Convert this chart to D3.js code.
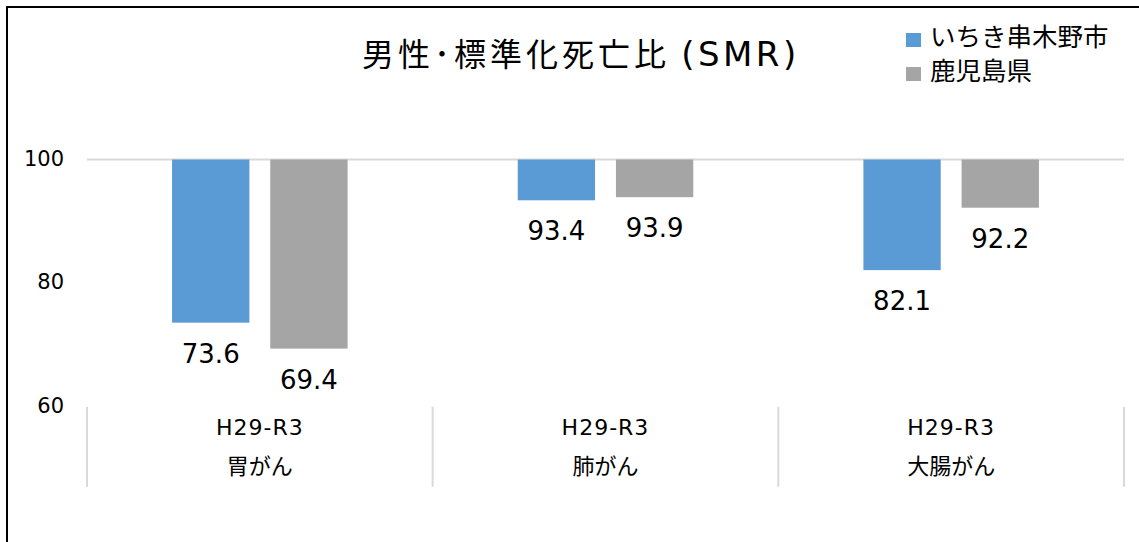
<!DOCTYPE html>
<html>
<head>
<meta charset="utf-8">
<script src="https://cdn.jsdelivr.net/npm/d3@7"></script>
<style>
  body { margin: 0; background: #fff; }
  text { font-family: "DejaVu Sans", "Noto Sans CJK JP", sans-serif; fill: #000; }
  .jp { font-family: "Noto Sans CJK JP", sans-serif; }
</style>
</head>
<body>
<div id="chart"></div>
<script>
// Data
const categories = ["胃がん", "肺がん", "大腸がん"];
const periods = ["H29-R3", "H29-R3", "H29-R3"];
const seriesNames = ["いちき串木野市", "鹿児島県"];
const cityValues = [73.6, 93.4, 82.1];
const prefValues = [69.4, 93.9, 92.2];
const yTicks = [60, 80, 100];
const colors = ["#5b9bd5", "#a5a5a5"];

const width = 1139, height = 542;
const svg = d3.select("#chart").append("svg")
  .attr("width", width)
  .attr("height", height);

// frame (runs off the right and bottom edge)
svg.append("rect")
  .attr("x", 7).attr("y", 7)
  .attr("width", width + 10).attr("height", height + 10)
  .attr("fill", "none")
  .attr("stroke", "#000")
  .attr("stroke-width", 2);

const margin = { left: 87, right: 15, top: 159.5, bottom: 135.3 };
const y = d3.scaleLinear()
  .domain([60, 100])
  .range([height - margin.bottom, margin.top]);
const x = d3.scaleBand()
  .domain(categories)
  .range([margin.left, width - margin.right]);

// excel style: gap width 220%, overlap -27%
const barW = x.bandwidth() / (2 + 0.27 + 2.2);
const gap = barW * 0.27;
const outer = (x.bandwidth() - 2 * barW - gap) / 2;

// gridline at 100
svg.append("line")
  .attr("x1", x.range()[0]).attr("x2", x.range()[1])
  .attr("y1", y(100)).attr("y2", y(100))
  .attr("stroke", "#d9d9d9")
  .attr("stroke-width", 2);

// y tick labels
svg.append("g").selectAll("text")
  .data(yTicks)
  .join("text")
  .attr("x", 64)
  .attr("y", d => y(d) + 6)
  .attr("text-anchor", "end")
  .attr("font-size", 21)
  .text(d => d);

// bars
const series = [cityValues, prefValues];
series.forEach((vals, si) => {
  const g = svg.append("g");
  const xpos = (d, i) => x(categories[i]) + outer + si * (barW + gap);
  g.selectAll("rect")
    .data(vals)
    .join("rect")
    .attr("x", xpos)
    .attr("y", y(100))
    .attr("width", barW)
    .attr("height", d => y(d) - y(100))
    .attr("fill", colors[si]);
  g.selectAll("text")
    .data(vals)
    .join("text")
    .attr("x", (d, i) => xpos(d, i) + barW / 2)
    .attr("y", d => y(d) + 40)
    .attr("text-anchor", "middle")
    .attr("font-size", 26)
    .text(d => d.toFixed(1));
});

// category separators
const seps = categories.map(c => x(c)).concat([x.range()[1]]);
svg.append("g").selectAll("line")
  .data(seps)
  .join("line")
  .attr("x1", d => d).attr("x2", d => d)
  .attr("y1", y(60)).attr("y2", y(60) + 80)
  .attr("stroke", "#d9d9d9")
  .attr("stroke-width", 2);

// category labels
const cat = svg.append("g");
cat.selectAll("text.period")
  .data(periods)
  .join("text")
  .attr("class", "period")
  .attr("x", (d, i) => x(categories[i]) + x.bandwidth() / 2)
  .attr("y", y(60) + 28)
  .attr("text-anchor", "middle")
  .attr("font-size", 22)
  .attr("letter-spacing", 1)
  .text(d => d);
cat.selectAll("text.name")
  .data(categories)
  .join("text")
  .attr("class", "name jp")
  .attr("x", d => x(d) + x.bandwidth() / 2)
  .attr("y", y(60) + 67)
  .attr("text-anchor", "middle")
  .attr("font-size", 22)
  .text(d => d);

// title
const title = svg.append("text")
  .attr("x", 362)
  .attr("y", 66)
  .attr("font-size", 32);
title.append("tspan").attr("class", "jp").attr("letter-spacing", 4).text("男性･標準化死亡比 ");
title.append("tspan").attr("font-size", 34).attr("letter-spacing", 3.5).text("(SMR)");

// legend
const legend = svg.append("g").attr("transform", "translate(906,33)");
seriesNames.forEach((name, i) => {
  legend.append("rect")
    .attr("x", 0).attr("y", i * 34)
    .attr("width", 15).attr("height", 14)
    .attr("fill", colors[i]);
  legend.append("text")
    .attr("class", "jp")
    .attr("x", 24).attr("y", i * 34 + 13)
    .attr("font-size", 25.5)
    .text(name);
});
</script>
</body>
</html>
